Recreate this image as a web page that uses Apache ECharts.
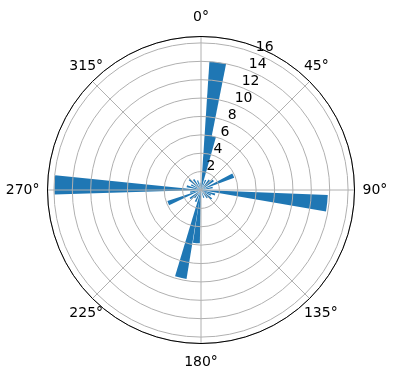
<!DOCTYPE html>
<html>
<head>
<meta charset="utf-8">
<script src="https://cdn.jsdelivr.net/npm/echarts@6/dist/echarts.min.js"></script>
<style>
  html, body { margin: 0; padding: 0; background: #fff; }
  #chart { width: 396px; height: 380px; }
</style>
</head>
<body>
<div id="chart"></div>
<script>
// compass direction of each bar (deg, clockwise from north) and its length
var directions = [7.5, 12, 25, 40, 52, 66, 78, 96, 108, 118, 130, 142, 160,
                  185, 193, 205, 220, 232, 248, 258, 272, 285, 298, 312, 325, 340, 352];
var speeds = [14.0, 6.0, 1.2, 1.4, 1.7, 3.85, 1.3, 13.8, 1.6, 1.2, 1.5, 1.1, 0.9,
              5.8, 9.8, 1.4, 1.1, 1.5, 3.85, 1.2, 15.95, 1.6, 1.2, 1.7, 1.4, 1.1, 0.8];
var barWidthDeg = 7.5;
var cardinalTicks = [0, 90, 180, 270];
var diagonalTicks = [45, 135, 225, 315];
var radiusTicks = [2, 4, 6, 8, 10, 12, 14, 16];
var rMax = 16.7;

var chart = echarts.init(document.getElementById('chart'));

var data = directions.map(function (d, i) { return [speeds[i], d]; });

var textFont = { color: '#000', fontSize: 14, fontFamily: 'DejaVu Sans' };
var richBase = { fontSize: 14, fontFamily: 'DejaVu Sans', color: '#000' };

var option = {
  animation: false,
  polar: [
    { center: [201, 190], radius: 153.5 },   // grid + bars
    { center: [199.5, 183], radius: 153.5 }, // radius labels at 22.5°
    { center: [203.5, 190], radius: 134 }    // diagonal angle labels
  ],
  angleAxis: [
    {
      polarIndex: 0,
      type: 'value', min: 0, max: 360, interval: 45,
      startAngle: 90, clockwise: true, z: 5,
      axisLine: { show: true, lineStyle: { color: '#000', width: 1 } },
      axisTick: { show: false },
      splitLine: { show: true, lineStyle: { color: '#b0b0b0', width: 1 } },
      axisLabel: Object.assign({
        margin: 8,
        formatter: function (v) {
          if (cardinalTicks.indexOf(v) < 0) return '';
          if (v === 0) return '{n|' + v + '°}';
          if (v === 180) return '{s|' + v + '°}';
          return v + '°';
        },
        rich: {
          n: Object.assign({ padding: [0, 0, 4, 0] }, richBase),
          s: Object.assign({ padding: [4, 0, 0, 0] }, richBase)
        }
      }, textFont)
    },
    {
      polarIndex: 1,
      type: 'value', min: 0, max: 360,
      startAngle: 67.5, clockwise: true, show: false
    },
    {
      polarIndex: 2,
      type: 'value', min: 0, max: 360, interval: 45,
      startAngle: 90, clockwise: true, z: 6,
      axisLine: { show: false },
      axisTick: { show: false },
      splitLine: { show: false },
      axisLabel: Object.assign({
        margin: 8,
        formatter: function (v) {
          if (diagonalTicks.indexOf(v) < 0) return '';
          return (v === 45 || v === 315 ? '{up|' : '{dn|') + v + '°}';
        },
        rich: {
          up: Object.assign({ padding: [0, 0, 16, 0] }, richBase),
          dn: Object.assign({ padding: [16, 0, 0, 0] }, richBase)
        }
      }, textFont)
    }
  ],
  radiusAxis: [
    {
      polarIndex: 0,
      type: 'value', min: 0, max: rMax, interval: 2, z: 5,
      axisLine: { show: false },
      axisTick: { show: false },
      axisLabel: { show: false },
      splitLine: {
        show: true,
        lineStyle: { color: '#b0b0b0', width: 1 }
      }
    },
    {
      polarIndex: 1,
      type: 'value', min: 0, max: rMax, interval: 2, z: 6,
      axisLine: { show: false },
      axisTick: { show: false },
      splitLine: { show: false },
      axisLabel: Object.assign({
        margin: 0,
        align: 'left',
        verticalAlign: 'middle',
        formatter: function (v) { return radiusTicks.indexOf(v) >= 0 ? String(v) : ''; }
      }, textFont)
    },
    {
      polarIndex: 2,
      type: 'value', min: 0, max: rMax, show: false
    }
  ],
  series: [{
    type: 'custom',
    coordinateSystem: 'polar',
    polarIndex: 0,
    data: data,
    renderItem: function (params, api) {
      var r = api.value(0), th = api.value(1);
      var c = api.coord([0, th]);
      var p1 = api.coord([r, th - barWidthDeg / 2]);
      var p2 = api.coord([r, th + barWidthDeg / 2]);
      var a1 = Math.atan2(p1[1] - c[1], p1[0] - c[0]);
      var a2 = Math.atan2(p2[1] - c[1], p2[0] - c[0]);
      return {
        type: 'sector',
        shape: {
          cx: c[0], cy: c[1], r0: 0,
          r: Math.hypot(p1[0] - c[0], p1[1] - c[1]),
          startAngle: a1, endAngle: a2, clockwise: true
        },
        style: { fill: '#1f77b4' }
      };
    }
  }]
};

chart.setOption(option);
</script>
</body>
</html>
